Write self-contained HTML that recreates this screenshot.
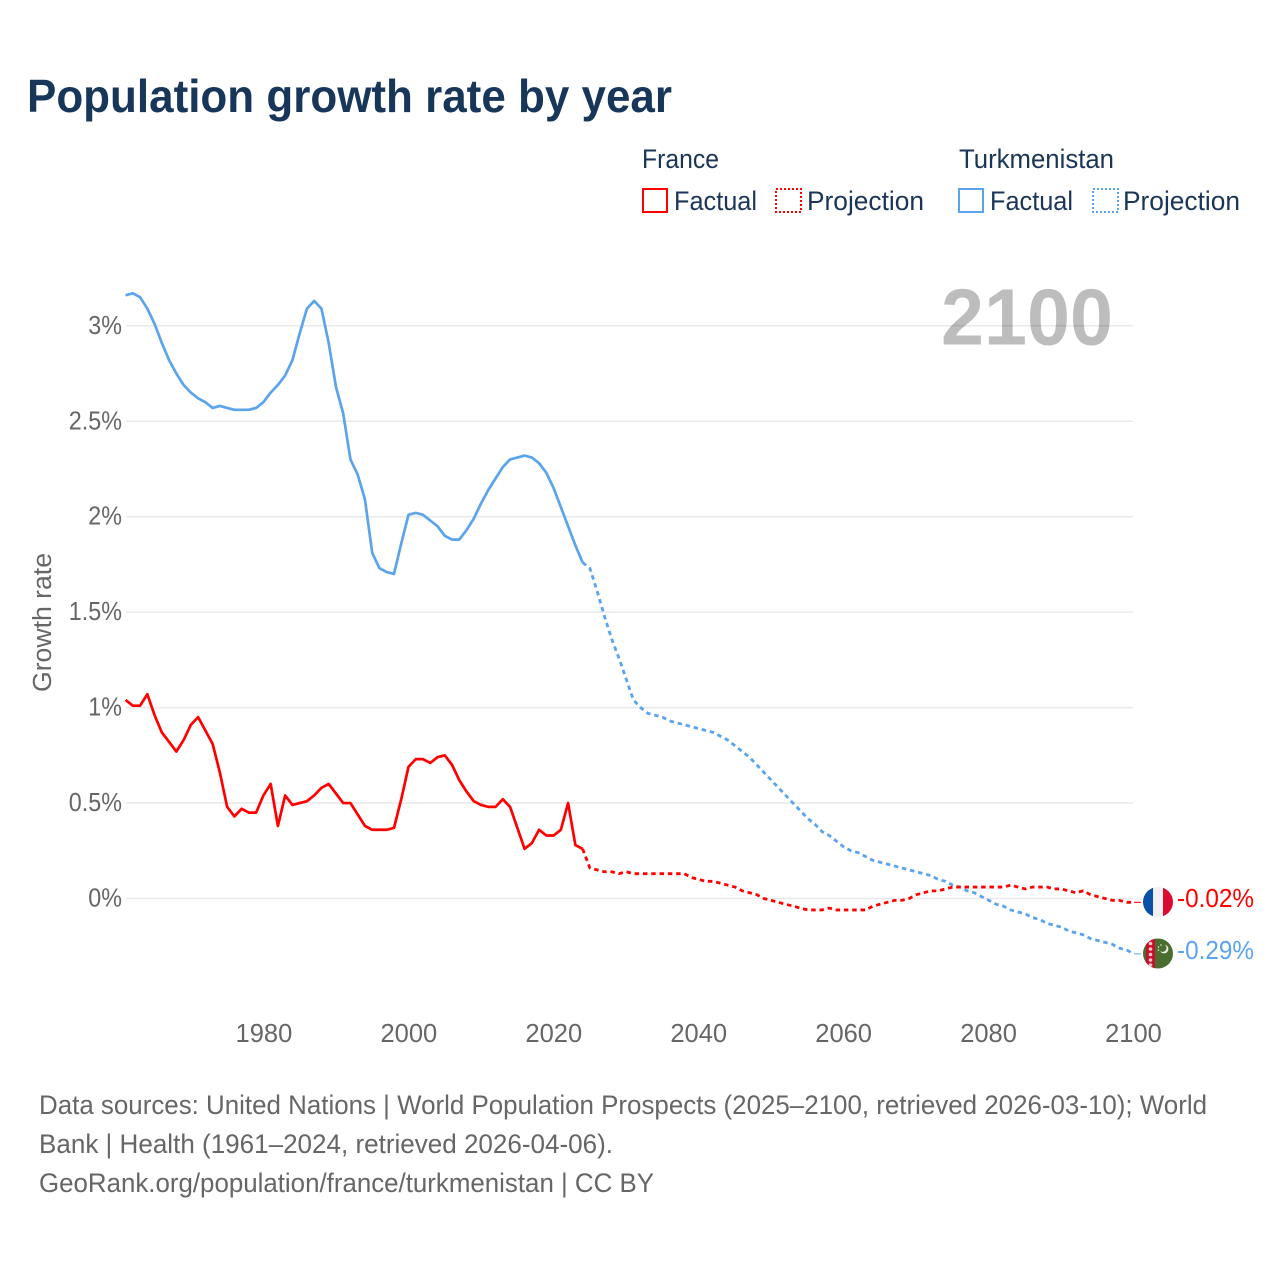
<!DOCTYPE html>
<html lang="en">
<head>
<meta charset="utf-8">
<title>Population growth rate by year</title>
<style>
html,body{margin:0;padding:0;background:#fff;}
svg{display:block;font-family:"Liberation Sans",sans-serif;}
</style>
</head>
<body>
<svg id="chart" xmlns="http://www.w3.org/2000/svg" width="1280" height="1280" viewBox="0 0 1280 1280">
  <rect width="1280" height="1280" fill="#ffffff"/>
  <text x="27" y="112" font-size="46" font-weight="700" fill="#17365a" textLength="645" lengthAdjust="spacingAndGlyphs">Population growth rate by year</text>

  <g font-size="27" fill="#1a3557">
    <text x="642" y="168" textLength="77" lengthAdjust="spacingAndGlyphs">France</text>
    <rect x="643" y="189" width="24" height="23" fill="none" stroke="#ff0000" stroke-width="2"/>
    <text x="674" y="210" textLength="83" lengthAdjust="spacingAndGlyphs">Factual</text>
    <rect x="776" y="189" width="25" height="23" fill="none" stroke="#ff0000" stroke-width="2" stroke-dasharray="2 2"/>
    <text x="807" y="210" textLength="117" lengthAdjust="spacingAndGlyphs">Projection</text>
    <text x="959" y="168" textLength="155" lengthAdjust="spacingAndGlyphs">Turkmenistan</text>
    <rect x="959" y="189" width="24" height="23" fill="none" stroke="#5ba4ec" stroke-width="2"/>
    <text x="990" y="210" textLength="83" lengthAdjust="spacingAndGlyphs">Factual</text>
    <rect x="1093" y="189" width="25" height="23" fill="none" stroke="#5ba4ec" stroke-width="2" stroke-dasharray="2 2"/>
    <text x="1123" y="210" textLength="117" lengthAdjust="spacingAndGlyphs">Projection</text>
  </g>

  <g id="grid"></g>
  <g id="yticks"></g>
  <g id="xticks"></g>

  <text x="941" y="344.5" font-size="80" font-weight="700" fill="#000000" fill-opacity="0.26" textLength="172" lengthAdjust="spacingAndGlyphs">2100</text>

  <text transform="translate(51 692) rotate(-90)" font-size="25.5" fill="#666666" textLength="139" lengthAdjust="spacingAndGlyphs">Growth rate</text>

  <g id="series"></g>

  <defs>
    <clipPath id="flag-clip-fr"><circle cx="1158" cy="902" r="15"/></clipPath>
    <clipPath id="flag-clip-tm"><circle cx="1158" cy="953.5" r="15"/></clipPath>
  </defs>
  <g clip-path="url(#flag-clip-fr)">
    <rect x="1143" y="886" width="10" height="32" fill="#0a4fa8"/>
    <rect x="1153" y="886" width="10" height="32" fill="#f1f1f4"/>
    <rect x="1163" y="886" width="10" height="32" fill="#dc0a30"/>
  </g>
  <g clip-path="url(#flag-clip-tm)">
    <rect x="1143" y="938" width="30" height="31" fill="#4a6e30"/>
    <rect x="1146" y="938" width="9" height="31" fill="#c8102e"/>
    <circle cx="1150.5" cy="943.5" r="1.8" fill="#e8c8c8"/>
    <circle cx="1150.5" cy="949" r="1.8" fill="#e8c8c8"/>
    <circle cx="1150.5" cy="954.5" r="1.8" fill="#e8c8c8"/>
    <circle cx="1150.5" cy="960" r="1.8" fill="#e8c8c8"/>
    <circle cx="1150.5" cy="965" r="1.8" fill="#e8c8c8"/>
    <circle cx="1164" cy="949" r="4.4" fill="#e8eee0"/>
    <circle cx="1162.6" cy="948" r="3.9" fill="#4a6e30"/>
    <circle cx="1158.5" cy="947" r="0.8" fill="#e8eee0"/>
    <circle cx="1161" cy="945" r="0.8" fill="#e8eee0"/>
    <circle cx="1158.5" cy="950" r="0.8" fill="#e8eee0"/>
  </g>
  <g id="endlabels"></g>

  <g font-size="26.5" fill="#666666">
    <text x="39" y="1114" textLength="1168" lengthAdjust="spacingAndGlyphs">Data sources: United Nations | World Population Prospects (2025–2100, retrieved 2026-03-10); World</text>
    <text x="39" y="1153" textLength="574" lengthAdjust="spacingAndGlyphs">Bank | Health (1961–2024, retrieved 2026-04-06).</text>
    <text x="39" y="1192" textLength="615" lengthAdjust="spacingAndGlyphs">GeoRank.org/population/france/turkmenistan | CC BY</text>
  </g>
</svg>
<script>
const factualStartYear = 1961;
const projectionStartYear = 2024;
const yTickValues = [0, 0.5, 1, 1.5, 2, 2.5, 3];
const yTickLabels = ["0%", "0.5%", "1%", "1.5%", "2%", "2.5%", "3%"];
const xTickYears = [1980, 2000, 2020, 2040, 2060, 2080, 2100];
const endLabels = ["-0.02%", "-0.29%"];

const franceFactual = [
  1.04,1.01,1.01,1.07,0.96,0.87,0.82,0.77,0.83,0.91,
  0.95,0.88,0.81,0.66,0.48,0.43,0.47,0.45,0.45,0.54,
  0.60,0.38,0.54,0.49,0.50,0.51,0.54,0.58,0.60,0.55,
  0.50,0.50,0.44,0.38,0.36,0.36,0.36,0.37,0.52,0.69,
  0.73,0.73,0.71,0.74,0.75,0.70,0.62,0.56,0.51,0.49,
  0.48,0.48,0.52,0.48,0.37,0.26,0.29,0.36,0.33,0.33,
  0.36,0.50,0.28,0.26
];
const franceProjection = [
  0.26,0.16,0.15,0.14,0.14,0.13,0.14,0.13,0.13,0.13,
  0.13,0.13,0.13,0.13,0.13,0.11,0.10,0.09,0.09,0.08,
  0.07,0.06,0.04,0.03,0.02,0.00,-0.01,-0.02,-0.03,-0.04,
  -0.05,-0.06,-0.06,-0.06,-0.05,-0.06,-0.06,-0.06,-0.06,-0.06,
  -0.04,-0.03,-0.02,-0.01,-0.01,0.00,0.02,0.03,0.04,0.04,
  0.05,0.06,0.06,0.06,0.06,0.06,0.06,0.06,0.06,0.07,
  0.06,0.05,0.06,0.06,0.06,0.05,0.05,0.04,0.03,0.04,
  0.02,0.01,0.00,-0.01,-0.01,-0.02,-0.02
];
const turkmenistanFactual = [
  3.16,3.17,3.15,3.09,3.01,2.91,2.82,2.75,2.69,2.65,
  2.62,2.60,2.57,2.58,2.57,2.56,2.56,2.56,2.57,2.60,
  2.65,2.69,2.74,2.82,2.96,3.09,3.13,3.09,2.91,2.68,
  2.54,2.30,2.22,2.09,1.81,1.73,1.71,1.70,1.86,2.01,
  2.02,2.01,1.98,1.95,1.90,1.88,1.88,1.93,1.99,2.07,
  2.14,2.20,2.26,2.30,2.31,2.32,2.31,2.28,2.23,2.15,
  2.05,1.95,1.85,1.76
];
const turkmenistanProjection = [
  1.76,1.73,1.61,1.48,1.36,1.26,1.15,1.04,1.00,0.97,
  0.96,0.95,0.93,0.92,0.91,0.90,0.89,0.88,0.87,0.85,
  0.83,0.80,0.77,0.74,0.70,0.66,0.62,0.58,0.54,0.50,
  0.46,0.42,0.39,0.35,0.33,0.30,0.27,0.25,0.24,0.22,
  0.20,0.19,0.18,0.17,0.16,0.15,0.14,0.13,0.12,0.10,
  0.09,0.07,0.06,0.04,0.03,0.01,-0.01,-0.03,-0.04,-0.06,
  -0.07,-0.08,-0.10,-0.11,-0.13,-0.14,-0.15,-0.17,-0.18,-0.19,
  -0.21,-0.22,-0.23,-0.24,-0.26,-0.27,-0.29
];

const SVG_NS = "http://www.w3.org/2000/svg";
const RED = "#ff0000";
const BLUE = "#5ba4ec";
const X_END = 1134, YEAR_END = 2100, PX_PER_YEAR = 7.255;
const TICK_PX_PER_YEAR = 7.2465;
const Y_0 = 898.5, PX_PER_UNIT = 190.9;
const PLOT_LEFT = 126, PLOT_RIGHT = 1133;
const LEADER_END_X = 1141;

function xScale(year) { return X_END + (year - YEAR_END) * PX_PER_YEAR; }
function xTickScale(year) { return X_END + (year - YEAR_END) * TICK_PX_PER_YEAR; }
function yScale(value) { return Y_0 - value * PX_PER_UNIT; }
function make(tag, attrs, parent, text) {
  const el = document.createElementNS(SVG_NS, tag);
  for (const k in attrs) el.setAttribute(k, attrs[k]);
  if (text !== undefined) el.textContent = text;
  parent.appendChild(el);
  return el;
}

const gridGroup = document.getElementById("grid");
const yTickGroup = document.getElementById("yticks");
yTickValues.forEach(function (v, i) {
  const line = make("line", { x1: PLOT_LEFT, x2: PLOT_RIGHT, y1: yScale(v), y2: yScale(v), stroke: "#e9e9e9", "stroke-width": 1.5 }, gridGroup);
  
  
  const t = make("text", { x: 122, y: yScale(v) + 8, "text-anchor": "end", "font-size": 25.5, fill: "#666666" }, yTickGroup, yTickLabels[i]);
  
  
  t.setAttribute('textLength', (t.getComputedTextLength() * 0.915).toFixed(1));
  t.setAttribute('lengthAdjust', 'spacingAndGlyphs');
});

const xTickGroup = document.getElementById("xticks");
xTickYears.forEach(function (yr) {
  const t = make("text", { x: xTickScale(yr) - 0.5, y: 1042, "text-anchor": "middle", "font-size": 25.5, fill: "#666666" }, xTickGroup, String(yr));
  
  
});

function linePoints(values, startYear) {
  return values.map(function (v, i) {
    return xScale(startYear + i).toFixed(2) + "," + yScale(v).toFixed(2);
  }).join(" ");
}
const seriesGroup = document.getElementById("series");

const tmFact = make("polyline", { points: linePoints(turkmenistanFactual, factualStartYear), fill: "none", stroke: BLUE, "stroke-width": 2.7, "stroke-linejoin": "round" }, seriesGroup);



const tmProj = make("polyline", { points: linePoints(turkmenistanProjection, projectionStartYear), fill: "none", stroke: BLUE, "stroke-width": 2.8, "stroke-dasharray": "4.5 3.8" }, seriesGroup);



const frFact = make("polyline", { points: linePoints(franceFactual, factualStartYear), fill: "none", stroke: RED, "stroke-width": 2.7, "stroke-linejoin": "round" }, seriesGroup);



const frProj = make("polyline", { points: linePoints(franceProjection, projectionStartYear), fill: "none", stroke: RED, "stroke-width": 2.8, "stroke-dasharray": "4.5 3.8" }, seriesGroup);



const frEnd = franceProjection[franceProjection.length - 1];
const tmEnd = turkmenistanProjection[turkmenistanProjection.length - 1];
const frLeader = make("line", { x1: xScale(2100), x2: LEADER_END_X, y1: yScale(frEnd), y2: yScale(frEnd), stroke: RED, "stroke-width": 1 }, seriesGroup);


const tmLeader = make("line", { x1: xScale(2100), x2: LEADER_END_X, y1: yScale(tmEnd), y2: yScale(tmEnd), stroke: BLUE, "stroke-width": 1 }, seriesGroup);



const endGroup = document.getElementById("endlabels");
const frLabel = make("text", { x: 1177, y: 907, "font-size": 25.5, fill: RED }, endGroup, endLabels[0]);


frLabel.setAttribute('textLength', '77');
frLabel.setAttribute('lengthAdjust', 'spacingAndGlyphs');
const tmLabel = make("text", { x: 1177, y: 959, "font-size": 25.5, fill: BLUE }, endGroup, endLabels[1]);


tmLabel.setAttribute('textLength', '77');
tmLabel.setAttribute('lengthAdjust', 'spacingAndGlyphs');
</script>
</body>
</html>
